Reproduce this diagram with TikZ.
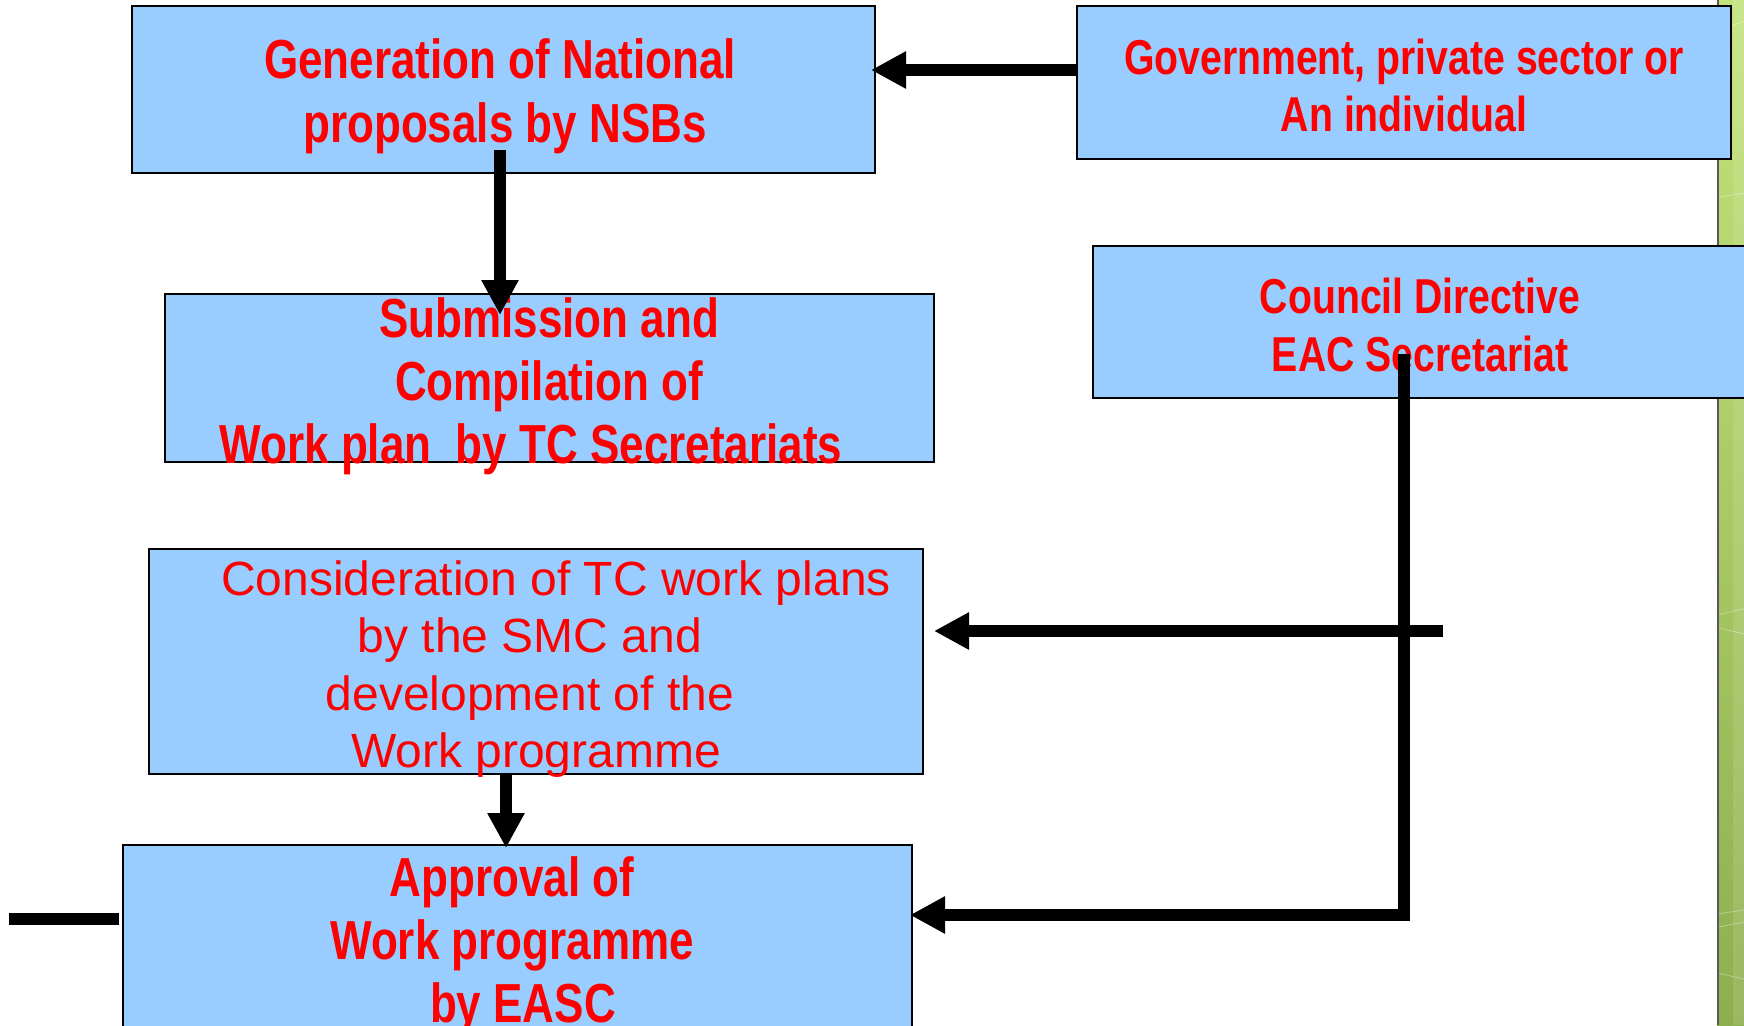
\documentclass[tikz,border=0pt]{standalone}
\usepackage{fontspec}
\setmainfont{Liberation Sans}
\newfontfamily\narrowbf{Liberation Sans}[FakeStretch=0.8]
\usetikzlibrary{arrows.meta}
\definecolor{boxblue}{HTML}{99CCFF}
\definecolor{txtred}{HTML}{FF0000}
\definecolor{gtop}{HTML}{C3E37A}
\definecolor{gbot}{HTML}{8DAF4F}
\begin{document}
\begin{tikzpicture}[x=1pt,y=-1pt,
 box/.style={draw=black, line width=2pt, fill=boxblue, inner sep=0pt},
 btxt/.style={text=txtred, align=center, inner sep=0pt},
 rtxt/.style={text=txtred, align=center, inner sep=0pt},
 conn/.style={line width=12.5pt, draw=black},
 arr/.style={conn, -{Triangle[length=35pt,width=35pt]}}]
\clip (0,0) rectangle (1744,1025);
\fill[white] (0,0) rectangle (1744,1025);
% green strip
\shade[top color=gtop, bottom color=gbot] (1717,0) rectangle (1744,1025);
\fill[white, opacity=0.12] (1733,0) rectangle (1744,1025);
\foreach \yy/\dy in {45/-8, 300/-4, 935/-6, 955/6, 1390/-4, 1410/-5, 1480/6}
  {\draw[white, opacity=0.35, line width=0.8pt] (1718,\yy/1.521) -- (1744,\yy/1.521+\dy);}
\draw[line width=2pt, draw=black!65] (1718,0) -- (1718,1025);
% boxes
\node[box, minimum width=743pt, minimum height=167pt] (gen) at (503.5,89.5) {};
\node[box, minimum width=654pt, minimum height=153pt] (gov) at (1404,82.5) {};
\node[box, minimum width=769pt, minimum height=168pt] (sub) at (549.5,378) {};
\node[box, minimum width=687pt, minimum height=152pt] (cou) at (1436.5,322) {};
\node[box, minimum width=774pt, minimum height=225pt] (cons) at (536,661.5) {};
\node[box, minimum width=789pt, minimum height=235pt] (app) at (517.5,962.5) {};
% texts
\node[btxt, font=\narrowbf\bfseries\fontsize{55}{64}\selectfont] (genT) at (500,96)
  {Generation of National\\\hspace*{10pt}proposals by NSBs};
\node[btxt, font=\narrowbf\bfseries\fontsize{49}{57}\selectfont] (govT) at (1404,85)
  {Government, private sector or\\An individual};
\node[btxt, font=\narrowbf\bfseries\fontsize{55}{63}\selectfont] (subT) at (549,386)
  {Submission and\\Compilation of\\Work plan\ \ by TC Secretariats\hspace*{36pt}};
\node[btxt, font=\narrowbf\bfseries\fontsize{49}{58}\selectfont] (couT) at (1420,325)
  {Council Directive\\EAC Secretariat};
\node[rtxt, font=\fontsize{48}{57.5}\selectfont] (consT) at (530,669)
  {\hspace*{52pt}Consideration of TC work plans\\by the SMC and\\development of the\\\hspace*{12pt}Work programme};
\node[btxt, font=\narrowbf\bfseries\fontsize{55}{63}\selectfont] (appT) at (512,945)
  {Approval of\\Work programme\\\hspace*{22pt}by EASC};
% connectors
\coordinate (yl1) at (0,70);
\path (gen.east |- yl1) ++(-5,0) coordinate (gtip);
\draw[arr] (gov.west |- yl1) -- (gtip);
\coordinate (a1s) at (500,150);
\coordinate (a1e) at (500,315);
\draw[arr] (a1s) -- (a1e);
\coordinate (cs) at (1404,354);
\coordinate (cc) at (1404,915);
\path (app.east |- cc) ++(-3,0) coordinate (atip);
\draw[arr] (cs) -- (cc) -- (atip);
\coordinate (hs) at (1443,631);
\path (cons.east |- hs) ++(10,0) coordinate (he);
\draw[arr] (hs) -- (he);
\coordinate (ca) at (506,774);
\coordinate (cb) at (506,848);
\draw[arr] (ca) -- (cb);
\coordinate (l1) at (9,919);
\coordinate (l2) at (119,919);
\draw[conn] (l1) -- (l2);
\end{tikzpicture}
\end{document}
